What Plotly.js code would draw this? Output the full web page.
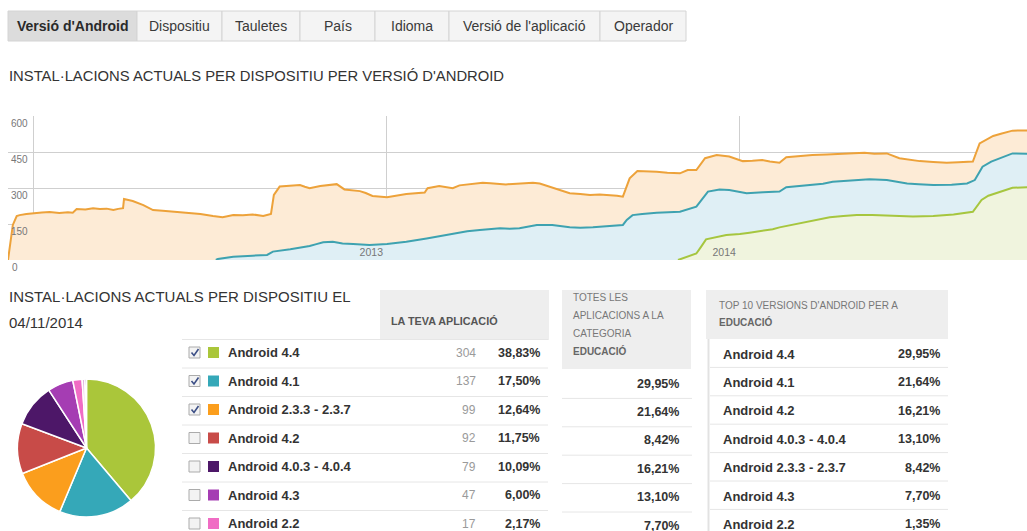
<!DOCTYPE html>
<html>
<head>
<meta charset="utf-8">
<script src="https://cdn.plot.ly/plotly-3.0.1.min.js"></script>
<style>
html,body{margin:0;padding:0;background:#fff;overflow:hidden;}
#chart{width:1027px;height:531px;}
</style>
</head>
<body>
<div id="chart"></div>
<script>
// ---------------- DATA ----------------
const tabLabels = ["Versió d'Android", "Dispositiu", "Tauletes", "País", "Idioma", "Versió de l'aplicació", "Operador"];
const chartTitle = "INSTAL·LACIONS ACTUALS PER DISPOSITIU PER VERSIÓ D'ANDROID";
const pieTitleLine1 = "INSTAL·LACIONS ACTUALS PER DISPOSITIU EL";
const pieTitleLine2 = "04/11/2014";

// Upper edge of each stacked band
const band233Dates = [
 "2011-12-06","2011-12-11","2011-12-15","2011-12-18","2011-12-25","2012-01-01","2012-01-10","2012-01-18","2012-01-28","2012-02-06",
 "2012-02-11","2012-02-15","2012-02-24","2012-03-03","2012-03-10","2012-03-17","2012-03-24","2012-03-29","2012-04-03","2012-04-04",
 "2012-04-13","2012-04-24","2012-05-04","2012-05-14","2012-05-25","2012-06-01","2012-06-08","2012-06-15","2012-06-22","2012-07-05",
 "2012-07-15","2012-07-26","2012-08-05","2012-08-15","2012-08-20","2012-08-26","2012-09-03","2012-09-06","2012-09-12","2012-09-22",
 "2012-10-03","2012-10-08","2012-10-13","2012-10-24","2012-11-02","2012-11-10","2012-11-18","2012-11-24","2012-12-04","2012-12-10",
 "2012-12-17","2013-01-01","2013-01-10","2013-01-21","2013-02-09","2013-02-12","2013-02-24","2013-03-10","2013-03-17","2013-03-28",
 "2013-04-10","2013-04-18","2013-04-25","2013-05-04","2013-05-11","2013-05-25","2013-06-01","2013-06-08","2013-06-21","2013-07-09",
 "2013-07-20","2013-07-30","2013-08-09","2013-08-19","2013-08-27","2013-09-02","2013-09-05","2013-09-09","2013-09-17","2013-09-25",
 "2013-10-07","2013-10-18","2013-10-31","2013-11-08","2013-11-17","2013-11-26","2013-12-08","2013-12-21","2013-12-28","2014-01-04",
 "2014-01-14","2014-01-24","2014-02-01","2014-02-11","2014-02-18","2014-03-01","2014-03-17","2014-04-01","2014-04-15","2014-04-28",
 "2014-05-10","2014-05-20","2014-06-02","2014-06-15","2014-06-24","2014-07-06","2014-07-20","2014-08-03","2014-08-15","2014-08-30",
 "2014-09-06","2014-09-20","2014-09-28","2014-10-10","2014-11-04"];
const band233Top = [
 0,146,183,187,192,196,198,200,196,199,
 197,212,210,216,213,214,208,213,216,254,
 246,229,208,205,201,199,197,195,192,183,
 178,187,186,190,187,183,192,271,306,309,
 312,305,299,308,312,316,294,292,287,279,
 267,261,268,275,281,299,308,299,311,316,
 322,320,318,315,317,320,322,319,303,278,
 275,271,273,271,268,264,299,340,371,370,
 368,364,361,375,375,424,437,431,420,412,
 414,417,410,405,428,432,437,440,442,444,
 447,443,444,424,418,412,408,405,407,410,
 486,517,526,539,540];

const band41Dates = [
 "2012-07-08","2012-07-10","2012-07-26","2012-08-05","2012-08-15","2012-08-30","2012-09-05","2012-09-23","2012-10-13","2012-10-20",
 "2012-10-27","2012-11-06","2012-11-16","2012-11-27","2012-12-14","2013-01-01","2013-01-21","2013-02-11","2013-02-24","2013-03-14",
 "2013-03-25","2013-04-07","2013-04-28","2013-05-08","2013-05-18","2013-06-05","2013-06-21","2013-07-09","2013-07-20","2013-08-02",
 "2013-08-15","2013-09-02","2013-09-06","2013-09-12","2013-09-22","2013-10-07","2013-10-31","2013-11-17","2013-11-29","2013-12-11",
 "2013-12-21","2014-01-08","2014-01-25","2014-02-11","2014-02-18","2014-03-17","2014-03-28","2014-04-07","2014-04-28","2014-05-15",
 "2014-06-02","2014-06-23","2014-07-05","2014-07-20","2014-08-08","2014-08-24","2014-09-01","2014-09-09","2014-09-18","2014-09-27",
 "2014-10-10","2014-11-04"];
const band41Top = [
 0,4,14,17,18,21,35,45,58,66,
 74,76,69,67,62,67,76,90,100,114,
 120,125,132,130,132,146,146,136,134,136,
 139,146,167,187,192,197,201,222,285,294,
 292,278,282,285,303,312,318,326,333,336,
 333,319,316,312,314,319,333,389,410,424,
 444,441];

const band44Dates = [
 "2013-10-29","2013-10-31","2013-11-07","2013-11-17","2013-11-22","2013-11-27","2013-12-18","2014-01-01","2014-01-11","2014-02-04",
 "2014-02-11","2014-02-25","2014-03-11","2014-04-04","2014-04-18","2014-05-02","2014-05-18","2014-06-02","2014-06-15","2014-06-29",
 "2014-07-20","2014-08-10","2014-08-30","2014-09-08","2014-09-15","2014-09-24","2014-10-10","2014-11-04"];
const band44Top = [
 0,3,14,27,56,86,104,108,114,128,
 136,148,160,178,183,187,188,186,184,181,
 183,190,201,250,268,281,301,304];

const yTickValues = [0,150,300,450,600];
const xTickDates = ["2012-01-01","2013-01-01","2014-01-01"];
const xTickLabels = ["","2013","2014"];

// Pie / table "La teva aplicació"
const versionLabels = ["Android 4.4","Android 4.1","Android 2.3.3 - 2.3.7","Android 4.2","Android 4.0.3 - 4.0.4","Android 4.3","Android 2.2","Android 3.2","Android 2.1"];
const versionCounts = [304,137,99,92,79,47,17,5,3];
const versionChecked = [true,true,true,false,false,false,false,false,false];
const versionColors = ["#aac63a","#35a8b8","#fb9e1d","#c84b48","#4d1768","#a53db3","#f06cc4","#e2b6e0","#5a2a70"];

// "Totes les aplicacions a la categoria Educació" (same row order)
const categoryShare = [29.95,21.64,8.42,16.21,13.10,7.70,1.35];

// Top 10 versions for Educació
const topVersionLabels = ["Android 4.4","Android 4.1","Android 4.2","Android 4.0.3 - 4.0.4","Android 2.3.3 - 2.3.7","Android 4.3","Android 2.2"];
const topVersionShare = [29.95,21.64,16.21,13.10,8.42,7.70,1.35];

// ---------------- LAYOUT HELPERS ----------------
const W = 1027, H = 531;
const X = p => p / W;
const Y = p => 1 - p / H;
const FONT = "Liberation Sans, Arial, sans-serif";
const fmt = v => v.toFixed(2).replace('.', ',') + '%';

const shapes = [];
const ann = [];
function rect(x0, y0, x1, y1, fill, line, lw) {
  shapes.push({type:'rect', xref:'paper', yref:'paper', x0:X(x0), x1:X(x1), y0:Y(y1), y1:Y(y0),
    fillcolor:fill, line:{color:line || fill, width: lw === undefined ? 0 : lw}, layer:'above'});
}
function hline(x0, x1, y, color, w) {
  shapes.push({type:'line', xref:'paper', yref:'paper', x0:X(x0), x1:X(x1), y0:Y(y), y1:Y(y), line:{color:color, width:w||1}, layer:'above'});
}
function vline(x, y0, y1, color, w) {
  shapes.push({type:'line', xref:'paper', yref:'paper', x0:X(x), x1:X(x), y0:Y(y0), y1:Y(y1), line:{color:color, width:w||1}, layer:'above'});
}
function text(t, x, y, opts) {
  opts = opts || {};
  ann.push({xref:'paper', yref:'paper', x:X(x), y:Y(y), text:t, showarrow:false,
    xanchor: opts.anchor || 'left', yanchor:'middle',
    font:{family: opts.family || FONT, size: opts.size || 13, color: opts.color || '#333'}});
}

// Tabs
const tabEdges = [8,137,222,300,375,449,600,686];
tabLabels.forEach((lab, i) => {
  const sel = i === 0;
  rect(tabEdges[i], 11, tabEdges[i+1], 41, sel ? '#dcdcdc' : '#f4f4f4', '#d4d4d4', 1);
  text(sel ? '<b>' + lab + '</b>' : lab, (tabEdges[i] + tabEdges[i+1]) / 2, 26,
    {anchor:'center', size: 14, color: sel ? '#2a2a2a' : '#3a3a3a'});
});

// Headings
text(chartTitle, 7, 76, {size:14.8, color:'#333'});
text(pieTitleLine1, 7, 296, {size:15, color:'#333'});
text(pieTitleLine2, 7, 322, {size:15, color:'#333'});

// Y-axis zero label (sits below the plot area, under its gridline)
text(String(yTickValues[0]), 10, 267, {size:10, color:'#777'});

// Table 1 : La teva aplicació
rect(380, 290, 549, 340, '#eeeeee');
text('<b>LA TEVA APLICACIÓ</b>', 389, 321, {size:10.8, color:'#555'});
const total = versionCounts.reduce((a, b) => a + b, 0);
const t1Top = 339.5, t1Row = 28.5;
for (let i = 0; i < 7; i++) {
  const cy = t1Top + t1Row * i + 13;
  hline(182, 548, t1Top + t1Row * i, '#e6e6e6', 1);
  rect(189, cy - 5.5, 200, cy + 5.5, '#f3f3f3', '#ababab', 1);
  if (versionChecked[i]) {
    shapes.push({type:'path', xref:'paper', yref:'paper',
      path:'M ' + X(191.5) + ' ' + Y(cy) + ' L ' + X(194) + ' ' + Y(cy + 3) + ' L ' + X(198.5) + ' ' + Y(cy - 3.5),
      line:{color:'#3c4f86', width:1.6}, layer:'above'});
  }
  rect(208, cy - 5.5, 219, cy + 5.5, versionColors[i]);
  text('<b>' + versionLabels[i] + '</b>', 226, cy, {size:13, color:'#333'});
  text(String(versionCounts[i]), 478, cy, {anchor:'right', size:12, color:'#9a9a9a'});
  text('<b>' + fmt(versionCounts[i] / total * 100) + '</b>', 542, cy, {anchor:'right', size:12.5, color:'#333'});
}

// Table 2 : Totes les aplicacions a la categoria Educació
rect(562, 290, 691, 369, '#eeeeee');
text('TOTES LES', 571, 297, {size:10, color:'#777'});
text('APLICACIONS A LA', 571, 315, {size:10, color:'#777'});
text('CATEGORIA', 571, 333, {size:10, color:'#777'});
text('<b>EDUCACIÓ</b>', 571, 351, {size:10, color:'#666'});
const t2Top = 370, t2Row = 28.4;
categoryShare.forEach((v, i) => {
  const cy = t2Top + t2Row * i + 13.5;
  if (i > 0) hline(562, 692, t2Top + t2Row * i, '#e6e6e6', 1);
  text('<b>' + fmt(v) + '</b>', 681, cy, {anchor:'right', size:12.5, color:'#333'});
});

// Table 3 : Top 10 versions
rect(706, 290, 948, 339, '#eeeeee');
text("TOP 10 VERSIONS D'ANDROID PER A", 717, 305, {size:10, color:'#777'});
text('<b>EDUCACIÓ</b>', 717, 322, {size:10, color:'#666'});
vline(708.5, 339, 531, '#e2e2e2', 2);
const t3Top = 339, t3Row = 28.4;
topVersionLabels.forEach((lab, i) => {
  const cy = t3Top + t3Row * i + 15;
  if (i > 0) hline(710, 948, t3Top + t3Row * i, '#e6e6e6', 1);
  text('<b>' + lab + '</b>', 721, cy, {size:13, color:'#333'});
  text('<b>' + fmt(topVersionShare[i]) + '</b>', 942, cy, {anchor:'right', size:12.5, color:'#333'});
});

// ---------------- TRACES ----------------
const traces = [
  {type:'scatter', mode:'lines', x:band233Dates, y:band233Top, fill:'tozeroy',
   fillcolor:'#fdebd6', line:{color:'#eda23a', width:2}, hoverinfo:'skip', name:'Android 2.3.3 - 2.3.7'},
  {type:'scatter', mode:'lines', x:band41Dates, y:band41Top, fill:'tozeroy',
   fillcolor:'#dfeff5', line:{color:'#3ea2b0', width:2}, hoverinfo:'skip', name:'Android 4.1'},
  {type:'scatter', mode:'lines', x:band44Dates, y:band44Top, fill:'tozeroy',
   fillcolor:'#f0f4de', line:{color:'#a6c63f', width:2}, hoverinfo:'skip', name:'Android 4.4'},
  {type:'pie', labels:versionLabels, values:versionCounts, sort:false, direction:'clockwise', rotation:0,
   marker:{colors:versionColors, line:{color:'#ffffff', width:1.5}}, textinfo:'none', hoverinfo:'skip',
   domain:{x:[X(17), X(156)], y:[Y(517), Y(379)]}}
];

const layout = {
  width:W, height:H, margin:{l:0, r:0, t:0, b:0},
  paper_bgcolor:'#ffffff', plot_bgcolor:'#ffffff', showlegend:false,
  font:{family:FONT, color:'#333'},
  xaxis:{type:'date', domain:[X(8), 1], range:['2011-12-06','2014-10-25'],
    tickmode:'array', tickvals:xTickDates, ticktext:xTickLabels,
    showgrid:true, gridcolor:'#cfcfcf', gridwidth:1, zeroline:false, showline:false, ticks:'',
    ticklabelposition:'inside left', ticklabelshift:-4, ticklabelstandoff:-4,
    tickfont:{family:FONT, size:10.5, color:'#777'}, fixedrange:true},
  yaxis:{domain:[Y(260), Y(116)], range:[0,600], tickmode:'array', tickvals:yTickValues,
    showgrid:true, gridcolor:'#cfcfcf', gridwidth:1, zeroline:false, showline:false, ticks:'',
    ticklabelposition:'inside bottom', ticklabeloverflow:'allow',
    tickfont:{family:FONT, size:10, color:'#777'}, fixedrange:true},
  shapes:shapes, annotations:ann
};

Plotly.newPlot('chart', traces, layout, {staticPlot:true, displayModeBar:false});
</script>
</body>
</html>
